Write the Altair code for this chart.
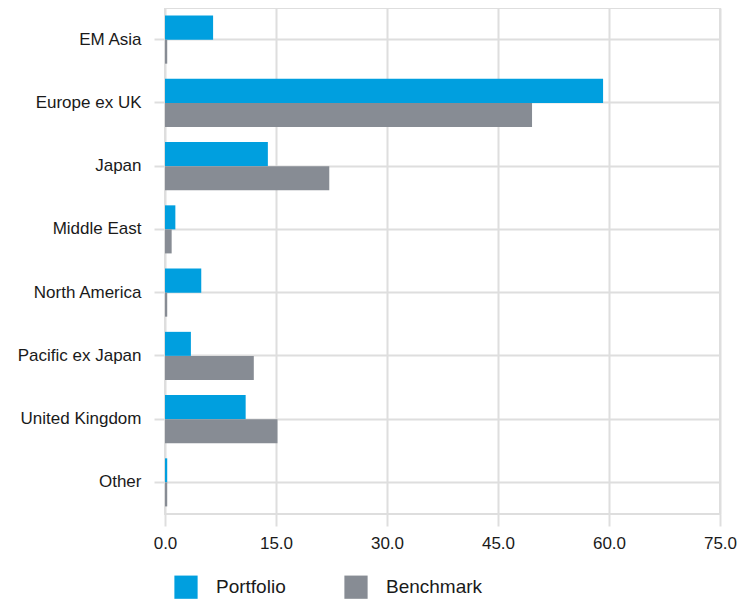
import altair as alt
import pandas as pd

categories = ["EM Asia", "Europe ex UK", "Japan", "Middle East", "North America",
              "Pacific ex Japan", "United Kingdom", "Other"]
portfolio = [6.5, 59.2, 13.9, 1.4, 4.9, 3.5, 10.9, 0.3]
benchmark = [0.3, 49.6, 22.2, 0.9, 0.3, 12.0, 15.2, 0.3]
series = ["Portfolio", "Benchmark"]
colors = ["#009FDF", "#878C94"]
x_ticks = [0, 15, 30, 45, 60, 75]

rows = []
for c, p, b in zip(categories, portfolio, benchmark):
    rows.append({"Region": c, "Series": "Portfolio", "Value": p})
    rows.append({"Region": c, "Series": "Benchmark", "Value": b})
df = pd.DataFrame(rows)

FONT = "Liberation Sans, Arial"
GRID = "#dedede"
TXT = "#1a1a1a"

chart = alt.Chart(df).mark_bar().encode(
    y=alt.Y("Region:N", sort=categories, title=None,
            scale=alt.Scale(paddingInner=0.24, paddingOuter=0.12),
            axis=alt.Axis(labelFontSize=17, labelFont=FONT, labelColor=TXT,
                          labelPadding=13, tickSize=11, tickColor=GRID, tickWidth=2,
                          grid=True, gridColor=GRID, gridWidth=2, domain=False,
                          bandPosition=0.5)),
    yOffset=alt.YOffset("Series:N", sort=series,
                        scale=alt.Scale(paddingInner=0, paddingOuter=0)),
    x=alt.X("Value:Q", title=None,
            scale=alt.Scale(domain=[0, 75], nice=False),
            axis=alt.Axis(values=x_ticks, format=".1f", labelFontSize=17, labelFont=FONT,
                          labelColor=TXT, labelPadding=9, tickSize=12,
                          tickColor=GRID, tickWidth=2, grid=True, gridColor=GRID,
                          gridWidth=2, domain=False, labelFlush=False)),
    color=alt.Color("Series:N", sort=series,
                    scale=alt.Scale(domain=series, range=colors),
                    legend=alt.Legend(title=None, orient="none", legendX=9, legendY=567,
                                      direction="horizontal", symbolType="square",
                                      symbolSize=540, symbolStrokeWidth=0,
                                      labelFontSize=19, labelFont=FONT,
                                      labelColor=TXT, labelOffset=18,
                                      columnPadding=58, padding=0)),
).properties(
    width=555, height=506,
    autosize=alt.AutoSizeParams(type="none"),
    padding={"left": 157, "top": 0, "right": 17, "bottom": 86},
).configure_view(stroke=GRID, strokeWidth=2)

chart.save("out.html", embed_options={"renderer": "svg", "actions": False})
